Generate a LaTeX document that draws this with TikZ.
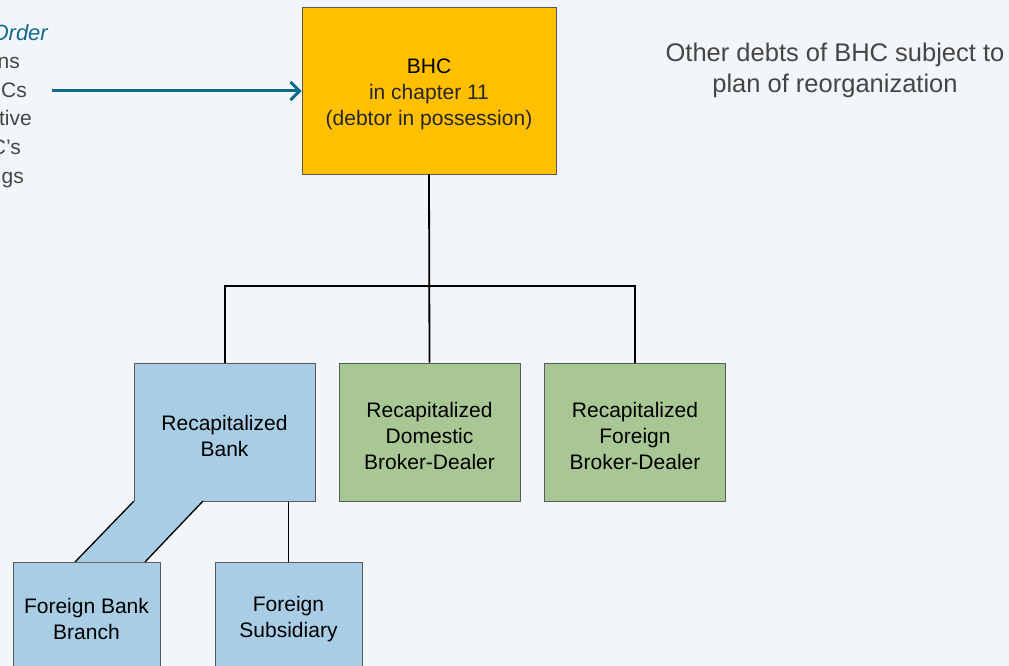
\documentclass[tikz,border=0pt]{standalone}
\usepackage{fontspec}
\setmainfont{Liberation Sans}
\usetikzlibrary{arrows.meta}
\definecolor{bg}{HTML}{F3F6F9}
\definecolor{gold}{HTML}{FFC000}
\definecolor{bankblue}{HTML}{A9CDE5}
\definecolor{bdgreen}{HTML}{A8C795}
\definecolor{teal}{HTML}{0F6B89}
\definecolor{txtgray}{HTML}{454545}
\definecolor{edge}{HTML}{5A5A5A}
\tikzset{
  box/.style={draw=edge, line width=1pt, align=center, inner sep=0pt, font=\fontsize{21}{26}\selectfont},
  conn/.style={draw=black, line width=1.8pt},
  frag/.style={anchor=base east, text=txtgray, inner sep=0pt, font=\fontsize{21}{25}\selectfont},
}
\begin{document}
\begin{tikzpicture}[x=1pt,y=-1pt]
\useasboundingbox (0,0) rectangle (1009,666);
\fill[bg] (0,0) rectangle (1009,666);
\clip (0,0) rectangle (1009,666);
% left clipped text fragments
\node[frag, text=teal, font=\fontsize{22}{25}\selectfont\itshape] (f0) at (48,41) {Order};
\node[frag] (f1) at (20,69) {ns};
\node[frag] (f2) at (27,98) {Cs};
\node[frag] (f3) at (32,126) {tive};
\node[frag] (f4) at (21,154) {C’s};
\node[frag] (f5) at (24,183) {gs};
\coordinate (arrstart) at (52,91);
% BHC
\node[box, fill=gold, minimum width=254pt, minimum height=166pt] (bhc) at (429,91) {};
\node[align=center, font=\fontsize{21}{26}\selectfont] (bhct) at (429,94)
  {BHC\\{\color{black!85}in chapter 11}\\{\color{black!85}(debtor in possession)}};
\draw[teal, line width=3pt, -{Straight Barb[length=9pt,width=18pt,line width=3pt]}] (arrstart) -- (bhc.west);
\node[text=txtgray, align=center, font=\fontsize{25.5}{31}\selectfont] (other) at (835,70)
  {Other debts of BHC subject to\\plan of reorganization};
% subsidiaries
\node[box, fill=bankblue, minimum width=181pt, minimum height=138pt] (bank) at (224.5,432) {};
\node[align=center, font=\fontsize{21}{26}\selectfont] (bankt) at (224.5,436) {Recapitalized\\Bank};
\node[box, fill=bdgreen, minimum width=181pt, minimum height=138pt] (dbd) at (429.5,432) {};
\node[align=center, font=\fontsize{21}{26}\selectfont] (dbdt) at (429.5,436) {Recapitalized\\Domestic\\Broker-Dealer};
\node[box, fill=bdgreen, minimum width=181pt, minimum height=138pt] (fbd) at (635,432) {};
\node[align=center, font=\fontsize{21}{26}\selectfont] (fbdt) at (635,436) {Recapitalized\\Foreign\\Broker-Dealer};
\node[box, fill=bankblue, minimum width=147pt, minimum height=140pt] (fbb) at (86.5,632) {};
\node[box, fill=bankblue, minimum width=147pt, minimum height=140pt] (fsub) at (288.5,632) {};
\node[align=center, font=\fontsize{21}{26}\selectfont] (fbbt) at (86.5,619) {Foreign Bank\\Branch};
\node[align=center, font=\fontsize{21}{26}\selectfont] (fsubt) at (288.5,619) {Foreign\\Subsidiary};
% connectors
\coordinate (bus) at (429,286);
\draw[conn] (bhc.south) -- (dbd.north);
\draw[conn] (bank.north -| 225,0) |- (bus) -| (fbd.north);
% branch link parallelogram
\coordinate (p1) at (134,501);
\coordinate (p2) at (203,501);
\coordinate (p3) at (145,562);
\coordinate (p4) at (75,562);
\fill[bankblue] (p1) -- (p2) -- (p3) -- (p4) -- cycle;
\draw[line width=1.3pt] (p1) -- (p4);
\draw[line width=1.3pt] (p2) -- (p3);
\draw[conn] (bank.south -| fsub.north) -- (fsub.north);
\end{tikzpicture}
\end{document}
